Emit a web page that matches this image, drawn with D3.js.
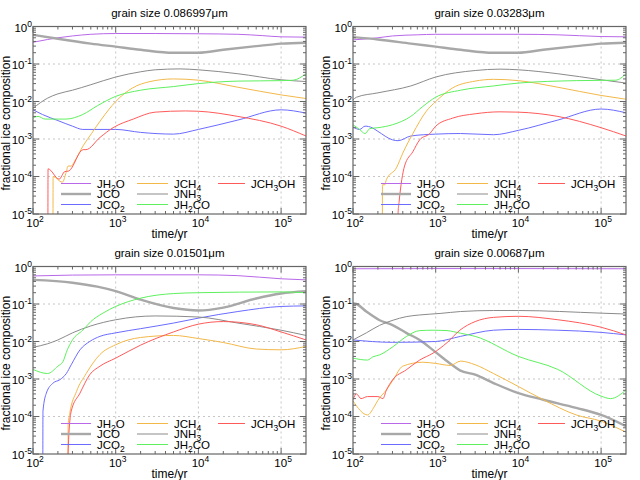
<!DOCTYPE html>
<html>
<head>
<meta charset="utf-8">
<script src="https://cdn.jsdelivr.net/npm/d3@7"></script>
<style>
body { margin: 0; background: #fff; }
text { font-family: "Liberation Sans", Arial, sans-serif; fill: #000; }
</style>
</head>
<body>
<svg id="chart" width="640" height="480"></svg>
<script>
// species and panel labels
var species = ["JH2O", "JCO", "JCO2", "JCH4", "JNH3", "JH2CO", "JCH3OH"];
var grainSizes = ["0.086997", "0.03283", "0.01501", "0.00687"];
var xTickVals = [1e2, 1e3, 1e4, 1e5];
var yTickVals = [1e-5, 1e-4, 1e-3, 1e-2, 1e-1, 1];

// grain size 0.086997 -- [time/yr, fraction]
var p1_JH2O = [[100,0.38],[150,0.45],[200,0.5],[300,0.56],[500,0.62],[1000,0.65],[3000,0.65],[1e4,0.64],[3e4,0.62],[6e4,0.57],[1e5,0.53],[2e5,0.52]];
var p1_JCO = [[100,0.6],[200,0.47],[500,0.35],[1000,0.29],[2000,0.24],[5000,0.2],[1e4,0.2],[2e4,0.24],[5e4,0.3],[1e5,0.35],[2e5,0.37]];
var p1_JCO2 = [[100,0.006],[130,0.0045],[200,0.0031],[300,0.0022],[400,0.0018],[1000,0.0018],[2000,0.0015],[5000,0.00135],[1e4,0.0018],[3e4,0.0032],[1e5,0.006],[2e5,0.0049]];
var p1_JCH4 = [[174,1e-8],[175,1e-4],[226,7e-5],[252,1.3e-4],[265,1.9e-4],[290,1.9e-4],[320,2.6e-4],[404,6.6e-4],[510,1.4e-3],[675,3.4e-3],[1000,0.01],[1600,0.023],[2600,0.034],[5000,0.04],[1e4,0.037],[3e4,0.024],[1e5,0.015],[2e5,0.012]];
var p1_JNH3 = [[100,0.0066],[150,0.0123],[200,0.016],[300,0.02],[500,0.028],[1000,0.045],[2000,0.062],[3000,0.07],[6000,0.074],[1e4,0.07],[3e4,0.055],[1e5,0.038],[2e5,0.034]];
var p1_JH2CO = [[100,0.0036],[115,0.004],[140,0.0034],[250,0.0034],[400,0.0045],[600,0.0077],[1000,0.0137],[2000,0.02],[5000,0.025],[1e4,0.03],[3e4,0.035],[1e5,0.036],[1.4e5,0.037],[2e5,0.055]];
var p1_JCH3OH = [[151,1e-8],[152,1.6e-4],[207,8.5e-5],[242,1.35e-4],[270,1.4e-4],[404,5.2e-4],[437,5.2e-4],[645,1.1e-3],[930,2e-3],[1630,3.4e-3],[3000,5.2e-3],[7000,5.6e-3],[1e4,5.5e-3],[3e4,4e-3],[1e5,2.2e-3],[2e5,1.2e-3]];

// grain size 0.03283
var p2_JH2O = [[100,0.44],[200,0.5],[300,0.56],[600,0.6],[1000,0.62],[1e4,0.62],[3e4,0.6],[1e5,0.54],[2e5,0.53]];
var p2_JCO = [[100,0.52],[200,0.45],[500,0.35],[1000,0.29],[2000,0.24],[5000,0.2],[1e4,0.2],[2e4,0.24],[5e4,0.3],[1e5,0.35],[2e5,0.37]];
var p2_JCO2 = [[100,0.0021],[120,0.0018],[140,0.0022],[170,0.002],[200,0.0016],[300,0.00095],[350,0.0009],[500,0.0012],[1000,0.00135],[2000,0.0014],[5000,0.0013],[1e4,0.0017],[3e4,0.0032],[1e5,0.0063],[2e5,0.005]];
var p2_JCH4 = [[226,1e-8],[227,6e-5],[242,6e-5],[253,8.2e-5],[335,1.7e-4],[400,4.2e-4],[530,1.4e-3],[770,5.5e-3],[1000,0.01],[1600,0.023],[3000,0.035],[5000,0.039],[1e4,0.036],[3e4,0.024],[1e5,0.0145],[2e5,0.0115]];
var p2_JNH3 = [[100,0.011],[110,0.013],[200,0.017],[500,0.026],[1000,0.045],[3000,0.067],[6000,0.073],[1e4,0.07],[3e4,0.055],[1e5,0.038],[2e5,0.031]];
var p2_JH2CO = [[100,0.0024],[120,0.0018],[140,0.0014],[160,0.0019],[200,0.002],[300,0.0024],[500,0.004],[700,0.0074],[1000,0.013],[2000,0.02],[5000,0.026],[1e4,0.031],[5e4,0.036],[1.5e5,0.037],[2e5,0.055]];
var p2_JCH3OH = [[350,1e-8],[351,1.1e-5],[360,2e-5],[420,1.9e-4],[530,4.6e-4],[640,9.5e-4],[850,1.4e-3],[1000,0.0022],[1600,0.0036],[3000,0.0047],[6000,0.0053],[1e4,0.0052],[3e4,0.004],[1e5,0.002],[2e5,0.0012]];

// grain size 0.01501
var p3_JH2O = [[100,0.56],[300,0.59],[1000,0.6],[1e4,0.6],[3e4,0.57],[1e5,0.47],[2e5,0.44]];
var p3_JCO = [[100,0.44],[300,0.37],[600,0.29],[1000,0.22],[2000,0.13],[5000,0.078],[1e4,0.067],[2e4,0.08],[5e4,0.14],[1e5,0.19],[2e5,0.22]];
var p3_JCO2 = [[131,1e-8],[132,1.4e-4],[145,4.2e-4],[175,7.8e-4],[210,9.5e-4],[253,1.4e-3],[290,2.4e-3],[370,0.006],[485,0.01],[645,0.0137],[1000,0.017],[2000,0.022],[5000,0.031],[1e4,0.042],[3e4,0.063],[1e5,0.086],[2e5,0.089]];
var p3_JCH4 = [[265,1e-8],[266,6e-5],[278,1.2e-4],[335,4.6e-4],[440,1.4e-3],[645,0.0045],[1000,0.0082],[2000,0.0128],[5000,0.0145],[1e4,0.012],[2e4,0.0094],[5e4,0.0063],[1e5,0.006],[2e5,0.0074]];
var p3_JNH3 = [[100,0.007],[150,0.0087],[200,0.011],[300,0.017],[500,0.026],[1000,0.038],[3000,0.048],[1e4,0.045],[3e4,0.031],[1e5,0.02],[2e5,0.0145]];
var p3_JH2CO = [[100,0.0018],[150,0.0014],[200,0.0022],[230,0.0029],[260,0.006],[300,0.011],[400,0.02],[500,0.034],[700,0.057],[1000,0.086],[2000,0.143],[5000,0.19],[1e4,0.2],[1e5,0.21],[2e5,0.2]];
var p3_JCH3OH = [[264,1e-8],[265,1e-5],[290,1.4e-4],[370,4.2e-4],[485,1.3e-3],[645,0.0022],[1000,0.0036],[2000,0.008],[5000,0.018],[1e4,0.029],[2e4,0.034],[5e4,0.028],[1e5,0.018],[2e5,0.011]];

// grain size 0.00687
var p4_JH2O = [[100,0.87],[1000,0.88],[1e4,0.88],[2e5,0.87]];
var p4_JCO = [[100,0.105],[110,0.1],[145,0.063],[210,0.037],[305,0.027],[440,0.017],[640,0.011],[930,0.0059],[1490,0.0026],[1960,0.0017],[3000,0.0013],[5000,7.8e-4],[1e4,4.2e-4],[2e4,2.8e-4],[5e4,1.7e-4],[1e5,1.1e-4],[2e5,5.5e-5]];
var p4_JCO2 = [[100,0.011],[300,0.0095],[1000,0.01],[2000,0.0137],[5000,0.02],[1e4,0.021],[3e4,0.02],[1e5,0.0175],[2e5,0.015]];
var p4_JCH4 = [[100,2.6e-4],[150,1.1e-4],[180,1.8e-4],[200,2.7e-4],[253,5.1e-4],[305,9.4e-4],[400,0.0022],[700,0.0028],[1000,0.0026],[1500,0.0023],[2000,0.003],[3000,0.0024],[5000,0.0014],[1e4,6.3e-4],[2e4,2.8e-4],[5e4,1.1e-4],[1e5,7.5e-5],[2e5,3.8e-5]];
var p4_JNH3 = [[100,0.011],[145,0.017],[210,0.027],[305,0.037],[440,0.046],[640,0.051],[1130,0.056],[2000,0.063],[5000,0.067],[1e4,0.067],[1e5,0.057],[2e5,0.054]];
var p4_JH2CO = [[100,0.0036],[150,0.0032],[174,0.0039],[210,0.0044],[305,0.0073],[440,0.0135],[640,0.0195],[930,0.02],[1370,0.0195],[2000,0.0166],[3000,0.0137],[1e4,0.004],[3e4,0.0018],[1e5,3.5e-4],[1.3e5,3e-4],[2e5,5.1e-4]];
var p4_JCH3OH = [[100,2.8e-4],[110,4e-4],[125,3e-4],[150,3.4e-4],[200,3.4e-4],[230,3e-4],[253,5e-4],[300,9.4e-4],[440,1.75e-3],[640,0.0032],[930,0.0049],[1370,0.0093],[1960,0.02],[3000,0.034],[5000,0.044],[1e4,0.047],[3e4,0.038],[1e5,0.024],[2e5,0.015]];

var panelData = [
    [p1_JH2O, p1_JCO, p1_JCO2, p1_JCH4, p1_JNH3, p1_JH2CO, p1_JCH3OH],
    [p2_JH2O, p2_JCO, p2_JCO2, p2_JCH4, p2_JNH3, p2_JH2CO, p2_JCH3OH],
    [p3_JH2O, p3_JCO, p3_JCO2, p3_JCH4, p3_JNH3, p3_JH2CO, p3_JCH3OH],
    [p4_JH2O, p4_JCO, p4_JCO2, p4_JCH4, p4_JNH3, p4_JH2CO, p4_JCH3OH]
];

var colors = ["#b868e8", "#a8a8a8", "#6b6bff", "#f2b84a", "#8a8a8a", "#5ef05e", "#ff5a5a"];
var widths = [1, 2.4, 1, 1, 1, 1, 1];

var svg = d3.select("#chart");
var plot = {left: 33, right: 306, top: 26.5, bottom: 214};
var offsets = [[0, 0], [320, 0], [0, 240], [320, 240]];

var xScale = d3.scaleLog().domain([100, 2e5]).range([plot.left, plot.right]);
var yScale = d3.scaleLog().domain([1e-5, 1]).range([plot.bottom, plot.top]);

svg.append("defs").append("clipPath").attr("id", "plotclip")
    .append("rect")
    .attr("x", plot.left).attr("y", plot.top)
    .attr("width", plot.right - plot.left)
    .attr("height", plot.bottom - plot.top);

var line = d3.line()
    .x(function (d) { return xScale(d[0]); })
    .y(function (d) { return yScale(d[1]); })
    .curve(d3.curveMonotoneX);

// text with digits as subscripts (JH2O -> JH<sub>2</sub>O)
function subText(sel, label) {
    var parts = label.match(/\d+|\D+/g);
    var down = false;
    parts.forEach(function (p) {
        var isNum = /\d/.test(p);
        var t = sel.append("tspan").text(p);
        if (isNum) {
            t.attr("dy", 3).style("font-size", "8.5px");
            down = true;
        } else if (down) {
            t.attr("dy", -3);
            down = false;
        }
    });
}

function powLabel(sel, exp) {
    sel.append("tspan").text("10");
    sel.append("tspan").attr("dy", -5).style("font-size", "8.5px").text(exp);
}

function minorTicks(domain) {
    var out = [];
    for (var e = Math.floor(Math.log10(domain[0])); e <= Math.ceil(Math.log10(domain[1])); e++) {
        for (var k = 2; k <= 9; k++) {
            var v = k * Math.pow(10, e);
            if (v > domain[0] && v < domain[1]) out.push(v);
        }
    }
    return out;
}

var xMinor = minorTicks(xScale.domain());
var yMinor = minorTicks(yScale.domain());

panelData.forEach(function (series, pi) {
    var g = svg.append("g")
        .attr("transform", "translate(" + offsets[pi][0] + "," + offsets[pi][1] + ")");

    // grid
    g.selectAll(".gx").data(xTickVals.slice(1)).enter().append("line")
        .attr("x1", function (d) { return xScale(d); })
        .attr("x2", function (d) { return xScale(d); })
        .attr("y1", plot.top).attr("y2", plot.bottom)
        .attr("stroke", "#b8b8b8").attr("stroke-width", 0.8)
        .attr("stroke-dasharray", "2,3");
    g.selectAll(".gy").data(yTickVals.slice(1, -1)).enter().append("line")
        .attr("y1", function (d) { return yScale(d); })
        .attr("y2", function (d) { return yScale(d); })
        .attr("x1", plot.left).attr("x2", plot.right)
        .attr("stroke", "#b8b8b8").attr("stroke-width", 0.8)
        .attr("stroke-dasharray", "2,3");

    // curves
    var curves = g.append("g").attr("clip-path", "url(#plotclip)");
    series.forEach(function (data, si) {
        curves.append("path")
            .datum(data)
            .attr("d", line)
            .attr("fill", "none")
            .attr("stroke", colors[si])
            .attr("stroke-width", widths[si])
            .attr("stroke-linejoin", "round");
    });

    // ticks, inward on all sides
    var tickCol = "#666";
    xTickVals.concat(xMinor).forEach(function (v) {
        var len = xTickVals.indexOf(v) >= 0 ? 6 : 3;
        var px = xScale(v);
        g.append("line").attr("x1", px).attr("x2", px)
            .attr("y1", plot.bottom).attr("y2", plot.bottom - len)
            .attr("stroke", tickCol).attr("stroke-width", 1);
        g.append("line").attr("x1", px).attr("x2", px)
            .attr("y1", plot.top).attr("y2", plot.top + len)
            .attr("stroke", tickCol).attr("stroke-width", 1);
    });
    yTickVals.concat(yMinor).forEach(function (v) {
        var len = yTickVals.indexOf(v) >= 0 ? 6 : 3;
        var py = yScale(v);
        g.append("line").attr("y1", py).attr("y2", py)
            .attr("x1", plot.left).attr("x2", plot.left + len)
            .attr("stroke", tickCol).attr("stroke-width", 1);
        g.append("line").attr("y1", py).attr("y2", py)
            .attr("x1", plot.right).attr("x2", plot.right - len)
            .attr("stroke", tickCol).attr("stroke-width", 1);
    });

    // border
    g.append("rect")
        .attr("x", plot.left).attr("y", plot.top)
        .attr("width", plot.right - plot.left)
        .attr("height", plot.bottom - plot.top)
        .attr("fill", "none").attr("stroke", tickCol).attr("stroke-width", 1.2);

    // tick labels
    xTickVals.forEach(function (v) {
        var t = g.append("text")
            .attr("x", xScale(v) + 2).attr("y", plot.bottom + 13)
            .attr("text-anchor", "middle")
            .style("font-size", "11.5px");
        powLabel(t, Math.round(Math.log10(v)));
    });
    yTickVals.forEach(function (v) {
        var t = g.append("text")
            .attr("x", plot.left - 1).attr("y", yScale(v) + 5)
            .attr("text-anchor", "end")
            .style("font-size", "11.5px");
        powLabel(t, Math.round(Math.log10(v)));
    });

    // titles
    g.append("text")
        .attr("x", (plot.left + plot.right) / 2).attr("y", 17)
        .attr("text-anchor", "middle")
        .style("font-size", "11.5px")
        .text("grain size " + grainSizes[pi] + "\u03bcm");
    g.append("text")
        .attr("x", (plot.left + plot.right) / 2).attr("y", 238)
        .attr("text-anchor", "middle")
        .style("font-size", "12px")
        .text("time/yr");
    g.append("text")
        .attr("transform", "translate(10," + ((plot.top + plot.bottom) / 2 + 3) + ")rotate(-90)")
        .attr("text-anchor", "middle")
        .style("font-size", "12px")
        .text("fractional ice composition");

    // legend
    var colX = [61, 137, 218];
    var colLen = [30, 31, 27];
    var rowY = [183.5, 194, 204.5];
    species.forEach(function (name, si) {
        var c = Math.floor(si / 3), r = si % 3;
        g.append("line")
            .attr("x1", colX[c]).attr("x2", colX[c] + colLen[c])
            .attr("y1", rowY[r]).attr("y2", rowY[r])
            .attr("stroke", colors[si]).attr("stroke-width", widths[si]);
        var t = g.append("text")
            .attr("x", colX[c] + colLen[c] + 6).attr("y", rowY[r] + 4)
            .style("font-size", "11.5px");
        subText(t, name);
    });
});
</script>
</body>
</html>
